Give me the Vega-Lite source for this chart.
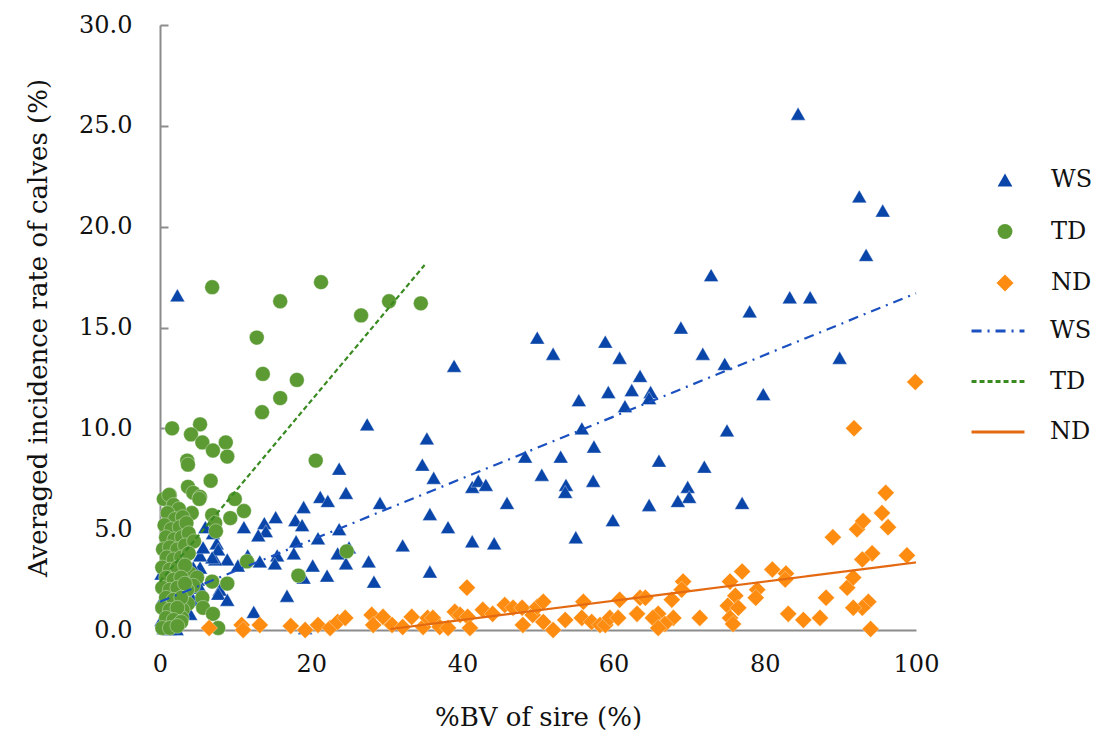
{
  "$schema": "https://vega.github.io/schema/vega-lite/v6.json",
  "width": 756,
  "height": 605,
  "autosize": {"type": "none"},
  "padding": {"left": 160, "top": 25, "right": 187, "bottom": 110},
  "background": "white",
  "config": {
    "font": "DejaVu Serif",
    "view": {"stroke": null},
    "axis": {"grid": false, "domainColor": "#8c8c8c", "domainWidth": 2, "tickColor": "#8c8c8c", "tickWidth": 2, "labelColor": "#111111", "titleColor": "#111111", "labelFont": "DejaVu Serif", "titleFont": "DejaVu Serif", "labelFontSize": 24, "titleFontSize": 26, "titleFontWeight": "normal", "labelFlush": false},
    "legend": {"labelFont": "DejaVu Serif", "labelFontSize": 24, "labelColor": "#111111", "padding": 0, "title": null}
  },
  "datasets": {
    "pts": [
      {"series":"WS","bv":2.3,"rate":16.6},{"series":"WS","bv":84.4,"rate":25.6},{"series":"WS","bv":92.5,"rate":21.5},{"series":"WS","bv":95.6,"rate":20.8},{"series":"WS","bv":93.4,"rate":18.6},{"series":"WS","bv":72.9,"rate":17.6},{"series":"WS","bv":83.3,"rate":16.5},{"series":"WS","bv":86.0,"rate":16.5},{"series":"WS","bv":78.0,"rate":15.8},{"series":"WS","bv":68.9,"rate":15.0},{"series":"WS","bv":49.9,"rate":14.5},{"series":"WS","bv":58.9,"rate":14.3},{"series":"WS","bv":52.0,"rate":13.7},{"series":"WS","bv":60.8,"rate":13.5},{"series":"WS","bv":71.8,"rate":13.7},{"series":"WS","bv":74.7,"rate":13.2},{"series":"WS","bv":89.9,"rate":13.5},{"series":"WS","bv":38.9,"rate":13.1},{"series":"WS","bv":63.5,"rate":12.6},{"series":"WS","bv":59.3,"rate":11.8},{"series":"WS","bv":62.4,"rate":11.9},{"series":"WS","bv":64.9,"rate":11.8},{"series":"WS","bv":64.7,"rate":11.5},{"series":"WS","bv":61.5,"rate":11.1},{"series":"WS","bv":79.8,"rate":11.7},{"series":"WS","bv":55.4,"rate":11.4},{"series":"WS","bv":55.8,"rate":10.0},{"series":"WS","bv":57.4,"rate":9.1},{"series":"WS","bv":27.4,"rate":10.2},{"series":"WS","bv":35.3,"rate":9.5},{"series":"WS","bv":34.7,"rate":8.2},{"series":"WS","bv":36.2,"rate":7.55},{"series":"WS","bv":48.3,"rate":8.6},{"series":"WS","bv":53.0,"rate":8.6},{"series":"WS","bv":50.5,"rate":7.7},{"series":"WS","bv":57.3,"rate":7.4},{"series":"WS","bv":53.7,"rate":7.2},{"series":"WS","bv":53.6,"rate":6.85},{"series":"WS","bv":41.3,"rate":7.1},{"series":"WS","bv":42.1,"rate":7.4},{"series":"WS","bv":43.1,"rate":7.2},{"series":"WS","bv":45.9,"rate":6.3},{"series":"WS","bv":55.0,"rate":4.6},{"series":"WS","bv":44.2,"rate":4.3},{"series":"WS","bv":41.3,"rate":4.4},{"series":"WS","bv":38.1,"rate":5.1},{"series":"WS","bv":35.7,"rate":5.75},{"series":"WS","bv":29.1,"rate":6.3},{"series":"WS","bv":32.1,"rate":4.2},{"series":"WS","bv":35.7,"rate":2.9},{"series":"WS","bv":28.3,"rate":2.4},{"series":"WS","bv":27.6,"rate":3.4},{"series":"WS","bv":59.9,"rate":5.45},{"series":"WS","bv":75.0,"rate":9.9},{"series":"WS","bv":66.0,"rate":8.4},{"series":"WS","bv":72.0,"rate":8.1},{"series":"WS","bv":69.8,"rate":7.1},{"series":"WS","bv":70.0,"rate":6.6},{"series":"WS","bv":68.5,"rate":6.4},{"series":"WS","bv":64.7,"rate":6.2},{"series":"WS","bv":77.0,"rate":6.3},
      {"series":"WS","bv":23.7,"rate":8.0},{"series":"WS","bv":21.2,"rate":6.6},{"series":"WS","bv":22.2,"rate":6.4},{"series":"WS","bv":24.6,"rate":6.8},{"series":"WS","bv":19.0,"rate":6.1},{"series":"WS","bv":15.3,"rate":5.6},{"series":"WS","bv":13.8,"rate":5.3},{"series":"WS","bv":14.0,"rate":4.9},{"series":"WS","bv":13.0,"rate":4.7},{"series":"WS","bv":11.1,"rate":5.1},{"series":"WS","bv":17.9,"rate":5.45},{"series":"WS","bv":18.8,"rate":5.2},{"series":"WS","bv":18.0,"rate":4.4},{"series":"WS","bv":20.9,"rate":4.55},{"series":"WS","bv":23.7,"rate":5.0},{"series":"WS","bv":17.7,"rate":3.8},{"series":"WS","bv":20.2,"rate":3.2},{"series":"WS","bv":22.1,"rate":2.7},{"series":"WS","bv":19.0,"rate":2.6},{"series":"WS","bv":16.8,"rate":1.7},{"series":"WS","bv":12.4,"rate":0.9},{"series":"WS","bv":19.2,"rate":0.1},{"series":"WS","bv":15.5,"rate":3.7},{"series":"WS","bv":15.2,"rate":3.3},{"series":"WS","bv":13.2,"rate":3.4},{"series":"WS","bv":11.6,"rate":3.7},{"series":"WS","bv":10.3,"rate":3.2},{"series":"WS","bv":8.9,"rate":3.5},{"series":"WS","bv":7.3,"rate":3.5},{"series":"WS","bv":7.9,"rate":2.0},{"series":"WS","bv":7.7,"rate":1.8},{"series":"WS","bv":8.9,"rate":1.5},{"series":"WS","bv":6.0,"rate":5.1},{"series":"WS","bv":7.0,"rate":4.8},{"series":"WS","bv":7.5,"rate":4.3},{"series":"WS","bv":7.7,"rate":4.0},{"series":"WS","bv":6.9,"rate":3.6},{"series":"WS","bv":5.3,"rate":3.7},{"series":"WS","bv":5.3,"rate":3.1},{"series":"WS","bv":4.4,"rate":3.1},{"series":"WS","bv":5.0,"rate":2.5},{"series":"WS","bv":5.3,"rate":2.1},{"series":"WS","bv":3.6,"rate":4.1},{"series":"WS","bv":5.7,"rate":4.1},{"series":"WS","bv":4.0,"rate":1.6},{"series":"WS","bv":4.4,"rate":1.5},{"series":"WS","bv":4.0,"rate":0.8},{"series":"WS","bv":3.6,"rate":2.4},{"series":"WS","bv":23.5,"rate":3.8},{"series":"WS","bv":24.6,"rate":3.3},{"series":"WS","bv":25.0,"rate":4.1},
      {"series":"WS","bv":0.2,"rate":2.8},{"series":"WS","bv":0.3,"rate":1.5},{"series":"WS","bv":0.5,"rate":0.1},{"series":"WS","bv":1.3,"rate":0.05},{"series":"WS","bv":2.2,"rate":0.05},{"series":"WS","bv":0.2,"rate":0.5},{"series":"WS","bv":1.0,"rate":2.2},{"series":"WS","bv":2.0,"rate":3.0},{"series":"WS","bv":3.0,"rate":2.5},{"series":"WS","bv":1.5,"rate":1.2},{"series":"WS","bv":2.5,"rate":1.8},{"series":"WS","bv":0.8,"rate":3.5},{"series":"WS","bv":1.8,"rate":4.2},{"series":"WS","bv":3.2,"rate":3.9},{"series":"WS","bv":2.8,"rate":0.8},
      {"series":"TD","bv":6.9,"rate":17.0},{"series":"TD","bv":21.3,"rate":17.25},{"series":"TD","bv":15.9,"rate":16.3},{"series":"TD","bv":30.3,"rate":16.3},{"series":"TD","bv":26.6,"rate":15.6},{"series":"TD","bv":34.5,"rate":16.2},{"series":"TD","bv":12.8,"rate":14.5},{"series":"TD","bv":13.6,"rate":12.7},{"series":"TD","bv":18.1,"rate":12.4},{"series":"TD","bv":15.9,"rate":11.5},{"series":"TD","bv":13.5,"rate":10.8},{"series":"TD","bv":1.6,"rate":10.0},{"series":"TD","bv":5.3,"rate":10.2},{"series":"TD","bv":4.1,"rate":9.7},{"series":"TD","bv":5.6,"rate":9.3},{"series":"TD","bv":8.7,"rate":9.3},{"series":"TD","bv":7.0,"rate":8.9},{"series":"TD","bv":8.9,"rate":8.6},{"series":"TD","bv":3.6,"rate":8.4},{"series":"TD","bv":3.7,"rate":8.2},{"series":"TD","bv":6.7,"rate":7.4},{"series":"TD","bv":3.7,"rate":7.1},{"series":"TD","bv":4.4,"rate":6.8},{"series":"TD","bv":5.3,"rate":6.6},{"series":"TD","bv":5.2,"rate":6.5},{"series":"TD","bv":1.3,"rate":6.7},{"series":"TD","bv":9.9,"rate":6.5},{"series":"TD","bv":11.1,"rate":5.9},{"series":"TD","bv":9.3,"rate":5.55},{"series":"TD","bv":6.9,"rate":5.7},{"series":"TD","bv":7.3,"rate":5.3},{"series":"TD","bv":7.4,"rate":4.9},{"series":"TD","bv":4.2,"rate":5.8},{"series":"TD","bv":20.6,"rate":8.4},{"series":"TD","bv":24.7,"rate":3.9},{"series":"TD","bv":11.5,"rate":3.4},{"series":"TD","bv":18.3,"rate":2.7},{"series":"TD","bv":6.9,"rate":2.4},{"series":"TD","bv":8.9,"rate":2.3},{"series":"TD","bv":5.6,"rate":1.6},{"series":"TD","bv":5.7,"rate":1.1},{"series":"TD","bv":7.0,"rate":0.8},{"series":"TD","bv":7.7,"rate":0.1},{"series":"TD","bv":4.0,"rate":2.8},{"series":"TD","bv":4.9,"rate":2.6},{"series":"TD","bv":4.4,"rate":2.2},{"series":"TD","bv":3.6,"rate":2.0},{"series":"TD","bv":3.7,"rate":1.3},{"series":"TD","bv":3.0,"rate":1.0},{"series":"TD","bv":2.9,"rate":0.6},
      {"series":"TD","bv":0.5,"rate":6.5},{"series":"TD","bv":1.2,"rate":6.7},{"series":"TD","bv":1.8,"rate":6.2},{"series":"TD","bv":2.5,"rate":6.0},{"series":"TD","bv":1.0,"rate":5.8},{"series":"TD","bv":2.0,"rate":5.5},{"series":"TD","bv":3.0,"rate":5.6},{"series":"TD","bv":0.6,"rate":5.2},{"series":"TD","bv":1.5,"rate":5.0},{"series":"TD","bv":2.6,"rate":5.1},{"series":"TD","bv":3.5,"rate":5.3},{"series":"TD","bv":0.8,"rate":4.6},{"series":"TD","bv":1.9,"rate":4.5},{"series":"TD","bv":2.9,"rate":4.6},{"series":"TD","bv":3.8,"rate":4.8},{"series":"TD","bv":0.4,"rate":4.0},{"series":"TD","bv":1.3,"rate":4.1},{"series":"TD","bv":2.3,"rate":4.0},{"series":"TD","bv":3.3,"rate":4.2},{"series":"TD","bv":4.5,"rate":4.4},{"series":"TD","bv":0.9,"rate":3.6},{"series":"TD","bv":1.8,"rate":3.5},{"series":"TD","bv":2.8,"rate":3.6},{"series":"TD","bv":3.8,"rate":3.8},{"series":"TD","bv":0.3,"rate":3.1},{"series":"TD","bv":1.3,"rate":3.0},{"series":"TD","bv":2.3,"rate":3.1},{"series":"TD","bv":3.3,"rate":3.2},{"series":"TD","bv":0.8,"rate":2.6},{"series":"TD","bv":1.8,"rate":2.5},{"series":"TD","bv":2.8,"rate":2.6},{"series":"TD","bv":0.3,"rate":2.1},{"series":"TD","bv":1.3,"rate":2.0},{"series":"TD","bv":2.3,"rate":2.1},{"series":"TD","bv":3.3,"rate":2.3},{"series":"TD","bv":0.8,"rate":1.6},{"series":"TD","bv":1.8,"rate":1.5},{"series":"TD","bv":2.8,"rate":1.6},{"series":"TD","bv":0.3,"rate":1.1},{"series":"TD","bv":1.3,"rate":1.0},{"series":"TD","bv":2.3,"rate":1.1},{"series":"TD","bv":0.8,"rate":0.6},{"series":"TD","bv":1.8,"rate":0.5},{"series":"TD","bv":2.8,"rate":0.4},{"series":"TD","bv":0.3,"rate":0.1},{"series":"TD","bv":1.3,"rate":0.1},{"series":"TD","bv":2.3,"rate":0.2},
      {"series":"ND","bv":6.5,"rate":0.1},{"series":"ND","bv":10.8,"rate":0.25},{"series":"ND","bv":11.0,"rate":0.0},{"series":"ND","bv":13.2,"rate":0.25},{"series":"ND","bv":17.3,"rate":0.2},{"series":"ND","bv":19.2,"rate":0.0},{"series":"ND","bv":20.9,"rate":0.25},{"series":"ND","bv":22.5,"rate":0.1},{"series":"ND","bv":23.5,"rate":0.4},{"series":"ND","bv":24.5,"rate":0.6},{"series":"ND","bv":28.0,"rate":0.75},{"series":"ND","bv":28.2,"rate":0.25},{"series":"ND","bv":29.5,"rate":0.65},{"series":"ND","bv":30.7,"rate":0.25},{"series":"ND","bv":32.1,"rate":0.15},{"series":"ND","bv":33.3,"rate":0.65},{"series":"ND","bv":34.8,"rate":0.15},{"series":"ND","bv":35.4,"rate":0.6},{"series":"ND","bv":36.1,"rate":0.6},{"series":"ND","bv":37.0,"rate":0.15},{"series":"ND","bv":38.1,"rate":0.1},{"series":"ND","bv":39.0,"rate":0.9},{"series":"ND","bv":39.7,"rate":0.75},{"series":"ND","bv":40.7,"rate":0.65},{"series":"ND","bv":41.0,"rate":0.1},{"series":"ND","bv":40.6,"rate":2.1},{"series":"ND","bv":42.7,"rate":1.0},{"series":"ND","bv":44.0,"rate":0.8},{"series":"ND","bv":45.6,"rate":1.24},{"series":"ND","bv":46.7,"rate":1.1},{"series":"ND","bv":47.9,"rate":1.1},{"series":"ND","bv":48.0,"rate":0.25},{"series":"ND","bv":49.3,"rate":0.75},{"series":"ND","bv":49.9,"rate":1.15},{"series":"ND","bv":50.7,"rate":1.4},{"series":"ND","bv":50.7,"rate":0.4},{"series":"ND","bv":52.0,"rate":0.0},{"series":"ND","bv":53.6,"rate":0.5},{"series":"ND","bv":56.0,"rate":1.4},{"series":"ND","bv":55.8,"rate":0.6},{"series":"ND","bv":57.1,"rate":0.4},{"series":"ND","bv":58.2,"rate":0.25},{"series":"ND","bv":58.9,"rate":0.25},{"series":"ND","bv":59.5,"rate":0.6},{"series":"ND","bv":60.6,"rate":0.6},{"series":"ND","bv":60.8,"rate":1.5},{"series":"ND","bv":63.1,"rate":0.8},{"series":"ND","bv":63.5,"rate":1.6},{"series":"ND","bv":64.2,"rate":1.6},{"series":"ND","bv":65.9,"rate":0.8},{"series":"ND","bv":65.2,"rate":0.6},{"series":"ND","bv":67.9,"rate":0.6},{"series":"ND","bv":66.8,"rate":0.3},{"series":"ND","bv":65.9,"rate":0.1},{"series":"ND","bv":69.2,"rate":2.4},{"series":"ND","bv":69.0,"rate":2.0},{"series":"ND","bv":67.7,"rate":1.5},{"series":"ND","bv":71.4,"rate":0.6},{"series":"ND","bv":75.4,"rate":2.4},{"series":"ND","bv":76.1,"rate":1.7},{"series":"ND","bv":75.1,"rate":1.2},{"series":"ND","bv":76.5,"rate":1.1},{"series":"ND","bv":75.4,"rate":0.6},{"series":"ND","bv":75.8,"rate":0.3},{"series":"ND","bv":77.0,"rate":2.9},{"series":"ND","bv":79.0,"rate":2.0},{"series":"ND","bv":78.8,"rate":1.6},{"series":"ND","bv":81.0,"rate":3.0},{"series":"ND","bv":82.8,"rate":2.8},{"series":"ND","bv":82.7,"rate":2.5},{"series":"ND","bv":83.1,"rate":0.8},{"series":"ND","bv":85.1,"rate":0.5},{"series":"ND","bv":87.3,"rate":0.6},{"series":"ND","bv":88.1,"rate":1.6},{"series":"ND","bv":90.9,"rate":2.1},{"series":"ND","bv":91.7,"rate":2.6},{"series":"ND","bv":93.7,"rate":1.4},{"series":"ND","bv":92.9,"rate":1.1},{"series":"ND","bv":91.7,"rate":1.1},{"series":"ND","bv":94.0,"rate":0.05},{"series":"ND","bv":94.2,"rate":3.8},{"series":"ND","bv":92.9,"rate":3.5},{"series":"ND","bv":98.8,"rate":3.7},{"series":"ND","bv":89.0,"rate":4.6},{"series":"ND","bv":92.2,"rate":5.0},{"series":"ND","bv":93.0,"rate":5.4},{"series":"ND","bv":96.3,"rate":5.1},{"series":"ND","bv":95.5,"rate":5.8},{"series":"ND","bv":96.0,"rate":6.8},{"series":"ND","bv":91.8,"rate":10.0},{"series":"ND","bv":99.9,"rate":12.3}
    ],
    "trends": [
      {"trend":"WS trend","bv":0,"rate":1.4},{"trend":"WS trend","bv":100,"rate":16.7},
      {"trend":"TD trend","bv":0,"rate":2.4},{"trend":"TD trend","bv":35,"rate":18.1},
      {"trend":"ND trend","bv":30.5,"rate":0.05},{"trend":"ND trend","bv":100,"rate":3.35}
    ]
  },
  "layer": [
    {
      "data": {"name": "pts"},
      "mark": {"type": "point", "filled": true, "opacity": 1, "size": 220, "stroke": "white", "strokeWidth": 0.5, "strokeOpacity": 0.7},
      "encoding": {
        "x": {"field": "bv", "type": "quantitative", "scale": {"domain": [0, 100], "nice": false, "zero": true},
              "axis": {"title": "%BV of sire (%)", "values": [0,20,40,60,80,100], "format": "d", "ticks": false, "labelPadding": 22, "titlePadding": 28}},
        "y": {"field": "rate", "type": "quantitative", "scale": {"domain": [0, 30], "nice": false},
              "axis": {"title": "Averaged incidence rate of calves (%)", "values": [0,5,10,15,20,25,30], "format": ".1f", "tickSize": -8, "labelPadding": 36, "titlePadding": 27}},
        "fill": {"field": "series", "type": "nominal", "scale": {"domain": ["WS","TD","ND"], "range": ["#0a46a9","#5c9b34","#fd8c10"]},
                 "legend": {"orient": "none", "legendX": 833, "legendY": 143, "labelOffset": 34, "rowPadding": 27.5, "symbolSize": 220, "symbolStrokeWidth": 0}},
        "shape": {"field": "series", "type": "nominal", "scale": {"domain": ["WS","TD","ND"], "range": ["triangle-up","circle","M-1.15,0L0,-1.15L1.15,0L0,1.15Z"]}}
      }
    },
    {
      "data": {"name": "trends"},
      "mark": {"type": "line", "strokeWidth": 2.2},
      "encoding": {
        "x": {"field": "bv", "type": "quantitative"},
        "y": {"field": "rate", "type": "quantitative"},
        "color": {"field": "trend", "type": "nominal", "scale": {"domain": ["WS trend","TD trend","ND trend"], "range": ["#1a50bf","#3a8a22","#e46a12"]},
                   "legend": {"orient": "none", "legendX": 810, "legendY": 278, "symbolType": "stroke", "symbolSize": 2800, "symbolStrokeWidth": 3, "labelOffset": 24, "rowPadding": 10.5, "labelExpr": "replace(datum.label, ' trend', '')"}},
        "strokeDash": {"field": "trend", "type": "nominal", "scale": {"domain": ["WS trend","TD trend","ND trend"], "range": [[10,6,2,6],[5,3],[1,0]]}}
      }
    }
  ]
}
